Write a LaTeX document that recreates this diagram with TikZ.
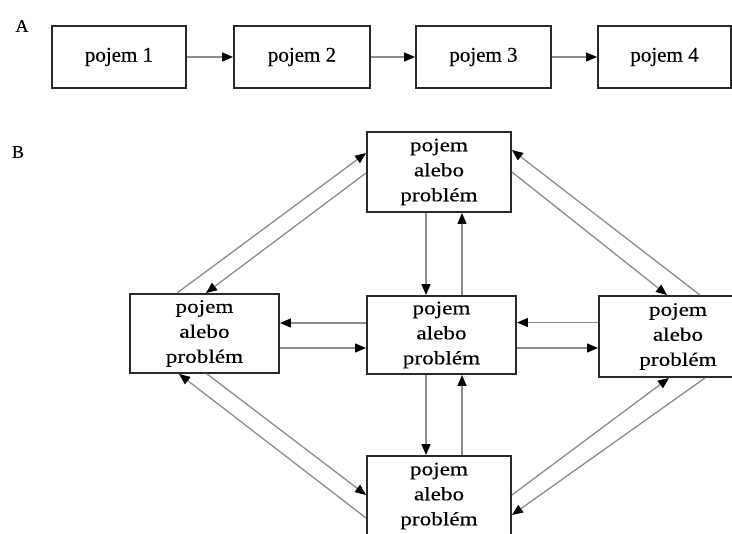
\documentclass[tikz,border=0pt]{standalone}
\usepackage{fontspec}
\setmainfont{Liberation Serif}[FakeBold=0.4]
\newfontfamily\bfont[FakeStretch=1.22,FakeBold=0.4]{Liberation Serif}
\usetikzlibrary{arrows.meta}
\definecolor{linegray}{HTML}{8C8C8C}
\definecolor{boxline}{HTML}{2A2A2A}
\tikzset{
  abox/.style={draw=boxline, line width=1.9pt, inner sep=0pt, fill=white,
    font=\fontsize{21}{25}\selectfont},
  bbox/.style={draw=boxline, line width=1.9pt, inner sep=0pt, align=center, fill=white,
    font=\bfont\fontsize{19}{25}\selectfont},
  conn/.style={draw=linegray, line width=1.3pt,
    -{Triangle[length=11pt,width=9pt,color=black]}},
  letter/.style={font=\fontsize{18}{20}\selectfont, inner sep=0pt}
}
\begin{document}
\begin{tikzpicture}[x=1pt,y=-1pt]
\useasboundingbox (0,0) rectangle (732,534);
\clip (0,0) rectangle (732,534);
\fill[white] (0,0) rectangle (732,534);

% Part A
\node[letter] (la) at (22,26) {A};
\node[abox, minimum width=134pt, minimum height=62pt] (a1) at (119,57) {pojem 1};
\node[abox, minimum width=136pt, minimum height=62pt] (a2) at (302,57) {pojem 2};
\node[abox, minimum width=135pt, minimum height=62pt] (a3) at (483.5,57) {pojem 3};
\node[abox, minimum width=133pt, minimum height=62pt] (a4) at (664.5,57) {pojem 4};
\draw[conn] (a1.east) -- (a2.west);
\draw[conn] (a2.east) -- (a3.west);
\draw[conn] (a3.east) -- (a4.west);

% Part B
\node[letter] (lb) at (18,152) {B};
\node[bbox, minimum width=144pt, minimum height=80pt] (top) at (439,172) {pojem\\alebo\\problém};
\node[bbox, minimum width=149pt, minimum height=79pt] (left) at (204.5,333.5) {pojem\\alebo\\problém};
\node[bbox, minimum width=149pt, minimum height=78pt] (center) at (441.5,335) {pojem\\alebo\\problém};
\node[bbox, minimum width=158pt, minimum height=81pt] (right) at (678,336.5) {pojem\\alebo\\problém};
\node[bbox, minimum width=144pt, minimum height=80pt] (bottom) at (439,496) {pojem\\alebo\\problém};

% diagonal connectors
\draw[conn] ([xshift=-27.5pt]left.north) -- ([yshift=19pt]top.west);
\draw[conn] ([yshift=-1pt]top.west) -- ([xshift=1.5pt]left.north);
\draw[conn] ([xshift=22pt]right.north) -- ([yshift=22pt]top.east);
\draw[conn] (top.east) -- ([xshift=-11pt]right.north);
\draw[conn] ([xshift=2.5pt]left.south) -- ([yshift=1pt]bottom.west);
\draw[conn] ([yshift=-22pt]bottom.west) -- ([xshift=-25.5pt]left.south);
\draw[conn] ([yshift=1pt]bottom.east) -- ([xshift=-9pt]right.south);
\draw[conn] ([xshift=27pt]right.south) -- ([yshift=-19pt]bottom.east);

% horizontal connectors
\draw[conn] ([yshift=12pt]center.west) -- ([yshift=12pt]center.west -| left.east);
\draw[conn] ([yshift=-13pt]center.west -| left.east) -- ([yshift=-13pt]center.west);
\draw[conn] ([yshift=14pt]right.west) -- ([yshift=14pt]right.west -| center.east);
\draw[conn] ([yshift=-11.5pt]right.west -| center.east) -- ([yshift=-11.5pt]right.west);

% vertical connectors
\draw[conn] ([xshift=-13pt]top.south) -- ([xshift=-13pt]top.south |- center.north);
\draw[conn] ([xshift=23pt]top.south |- center.north) -- ([xshift=23pt]top.south);
\draw[conn] ([xshift=-13pt]bottom.north |- center.south) -- ([xshift=-13pt]bottom.north);
\draw[conn] ([xshift=23pt]bottom.north) -- ([xshift=23pt]bottom.north |- center.south);
\end{tikzpicture}
\end{document}
